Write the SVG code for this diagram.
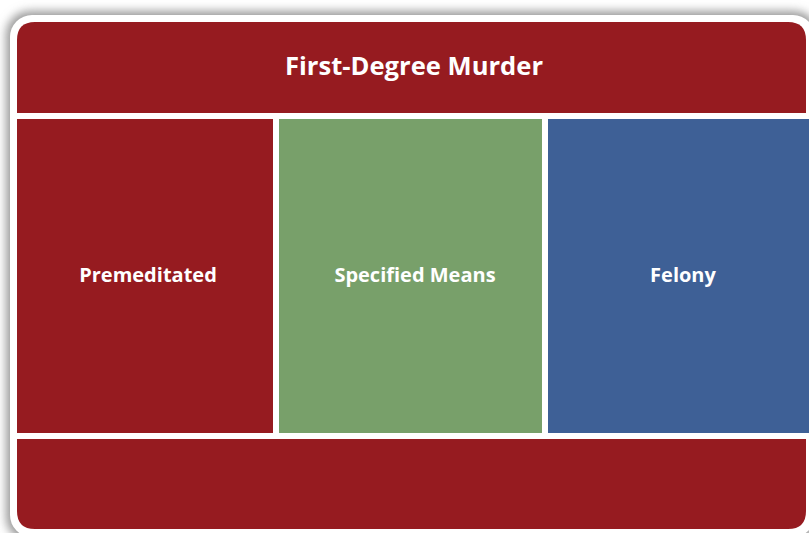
<svg xmlns="http://www.w3.org/2000/svg" width="809" height="533" viewBox="0 0 809 533">
<defs>
<filter id="sh" x="-5%" y="-5%" width="110%" height="110%"><feGaussianBlur stdDeviation="5"/></filter>
<style>
.lbl{font-family:"Open Sans","Liberation Sans",sans-serif;font-weight:bold;fill:#ffffff;text-anchor:middle}
.red{fill:#961b20}
</style>
</defs>
<rect width="809" height="533" fill="#ffffff"/>
<rect x="6" y="11" width="812" height="530" rx="24" fill="#9a9a9a" filter="url(#sh)"/>
<rect x="10" y="15" width="805" height="522" rx="22" fill="#ffffff"/>
<g id="header">
<path class="red" d="M17 113 V40 Q17 22 35 22 H788 Q806 22 806 40 V113 Z"/>
<text class="lbl" x="414" y="75" font-size="25.5" textLength="258" lengthAdjust="spacingAndGlyphs">First-Degree Murder</text>
</g>
<g id="premeditated">
<rect class="red" x="17" y="119" width="256" height="314"/>
<text class="lbl" x="148" y="282" font-size="20">Premeditated</text>
</g>
<g id="specified">
<rect x="279" y="119" width="263" height="314" fill="#78a06a"/>
<text class="lbl" x="415" y="282" font-size="20">Specified Means</text>
</g>
<g id="felony">
<rect x="548" y="119" width="261" height="314" fill="#3e6096"/>
<text class="lbl" x="683" y="282" font-size="20">Felony</text>
</g>
<g id="footer">
<path class="red" d="M17 439 H806 V511 Q806 529 788 529 H35 Q17 529 17 511 Z"/>
</g>
<g id="connectors"></g>
</svg>
